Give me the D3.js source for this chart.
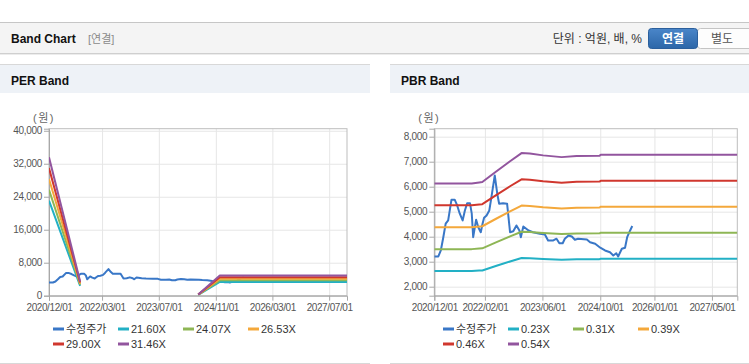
<!DOCTYPE html>
<html>
<head>
<meta charset="utf-8">
<script src="https://cdn.jsdelivr.net/npm/d3@7/dist/d3.min.js"></script>
<style>
    body { margin: 0; background: #fff; }
    text { font-family: "Liberation Sans", "Noto Sans CJK KR", sans-serif; }
</style>
</head>
<body>
<svg id="page" width="749" height="364"></svg>
<script>
// ---- data ----
const priceDates = ["2020-12-01", "2021-01-04", "2021-01-25", "2021-02-15", "2021-03-07", "2021-03-28",
    "2021-04-25", "2021-05-22", "2021-06-12", "2021-07-04", "2021-07-28", "2021-08-16", "2021-09-04",
    "2021-09-28", "2021-10-13", "2021-10-25", "2021-11-19", "2021-12-07", "2021-12-28", "2022-01-13",
    "2022-01-25", "2022-02-15", "2022-03-10", "2022-03-28", "2022-04-25", "2022-05-16", "2022-06-01",
    "2022-07-04", "2022-08-07", "2022-09-01", "2022-09-28", "2022-10-25", "2022-11-19", "2022-12-01",
    "2022-12-22", "2023-02-04", "2023-03-13", "2023-05-10", "2023-06-22", "2023-07-19", "2023-09-01",
    "2023-09-28", "2023-10-22", "2023-11-19", "2023-12-07", "2024-01-07", "2024-02-04", "2024-03-01",
    "2024-03-28", "2024-06-10", "2024-07-07", "2024-08-19", "2024-10-01", "2024-11-10", "2024-12-22",
    "2025-01-19", "2025-02-13", "2025-03-01", "2025-04-01", "2025-04-28", "2025-05-16", "2025-06-10",
    "2025-06-28"];
const priceValues = [3210, 3210, 3450, 3980, 4520, 4650,
    5480, 5480, 5250, 4920, 4650, 5050, 5340,
    5340, 4920, 3980, 4680, 4380, 4180, 4540,
    4760, 4850, 5050, 5580, 6450, 5720, 5320,
    5340, 5320, 4180, 4220, 4450, 4250, 3980,
    4410, 4250, 4180, 4120, 4090, 3850, 3850,
    3920, 3740, 3740, 3920, 4050, 4010, 3880,
    3920, 3890, 3780, 3720, 3560, 3450, 3380,
    3250, 3340, 3210, 3520, 3560, 3980, 4250,
    4430];

const perLabels = ["21.60X", "24.07X", "26.53X", "29.00X", "31.46X"];
const perDates = ["2020-12-01", "2021-08-25", "2023-01-01", "2024-06-03", "2024-12-05", "2027-12-01"];
const per2160 = [23050, 2380, null, 216, 3348, 3348];
const per2407 = [25680, 2650, null, 241, 3731, 3731];
const per2653 = [28310, 2920, null, 265, 4112, 4112];
const per2900 = [30940, 3190, null, 290, 4495, 4495];
const per3146 = [33570, 3460, null, 315, 4876, 4876];

const pbrLabels = ["0.23X", "0.31X", "0.39X", "0.46X", "0.54X"];
const pbrDates = ["2020-12-01", "2021-10-13", "2021-12-15", "2022-01-10", "2022-05-10", "2022-09-01",
    "2022-12-07", "2023-02-15", "2023-06-07", "2023-11-10", "2024-03-15", "2024-09-25", "2024-10-05",
    "2027-12-01"];
const pbr023 = [2627, 2627, 2644, 2651, 2837, 3009, 3148, 3139, 3109, 3078, 3097, 3102, 3120, 3120];
const pbr031 = [3503, 3503, 3525, 3534, 3782, 4011, 4197, 4185, 4145, 4104, 4129, 4135, 4160, 4160];
const pbr039 = [4379, 4379, 4406, 4418, 4728, 5014, 5247, 5231, 5181, 5131, 5162, 5169, 5200, 5200];
const pbr046 = [5255, 5255, 5287, 5301, 5673, 6017, 6296, 6278, 6217, 6157, 6194, 6203, 6240, 6240];
const pbr054 = [6130, 6130, 6168, 6185, 6619, 7020, 7345, 7324, 7253, 7183, 7226, 7237, 7280, 7280];

const perTicks = ["2020-12-01", "2022-03-01", "2023-07-01", "2024-11-01", "2026-03-01", "2027-07-01"];
const pbrTicks = ["2020-12-01", "2022-02-01", "2023-06-01", "2024-10-01", "2026-01-01", "2027-05-01"];
const perYTicks = [0, 8000, 16000, 24000, 32000, 40000];
const pbrYTicks = [2000, 3000, 4000, 5000, 6000, 7000, 8000];

const priceLabel = "수정주가";
const priceColor = "#3977c7";
const bandColors = ["#22b0c5", "#8eb655", "#f4a83b", "#d0372e", "#92559e"];

// ---- page ----
const parse = d3.timeParse("%Y-%m-%d");
const svg = d3.select("#page");

// top bar
svg.append("line").attr("x1", 0).attr("x2", 749).attr("y1", 22.5).attr("y2", 22.5)
    .attr("stroke", "#c6c6c6");
svg.append("rect").attr("x", 0).attr("y", 23).attr("width", 749).attr("height", 30)
    .attr("fill", "#f4f4f4");
svg.append("line").attr("x1", 0).attr("x2", 749).attr("y1", 53.5).attr("y2", 53.5)
    .attr("stroke", "#cfcfcf");
svg.append("line").attr("x1", 0).attr("x2", 749).attr("y1", 54.5).attr("y2", 54.5)
    .attr("stroke", "#ececec");
svg.append("text").attr("x", 11).attr("y", 43).attr("font-size", 12).attr("font-weight", "bold")
    .attr("fill", "#111").text("Band Chart");
svg.append("text").attr("x", 88).attr("y", 43).attr("font-size", 11).attr("fill", "#8a8a8a")
    .text("[연결]");
svg.append("text").attr("x", 642).attr("y", 43).attr("font-size", 12).attr("fill", "#333")
    .attr("text-anchor", "end").text("단위 : 억원, 배, %");

const grad = svg.append("defs").append("linearGradient").attr("id", "btn")
    .attr("x1", 0).attr("x2", 0).attr("y1", 0).attr("y2", 1);
grad.append("stop").attr("offset", 0).attr("stop-color", "#4a86c9");
grad.append("stop").attr("offset", 1).attr("stop-color", "#2c66a8");

svg.append("rect").attr("x", 697.5).attr("y", 28.5).attr("width", 60).attr("height", 20).attr("rx", 3)
    .attr("fill", "#fdfdfd").attr("stroke", "#c4c4c4");
svg.append("rect").attr("x", 648.5).attr("y", 28.5).attr("width", 49).attr("height", 20).attr("rx", 3)
    .attr("fill", "url(#btn)").attr("stroke", "#2b5f9c");
svg.append("text").attr("x", 673).attr("y", 43).attr("font-size", 12).attr("font-weight", "bold")
    .attr("fill", "#fff").attr("text-anchor", "middle").text("연결");
svg.append("text").attr("x", 722).attr("y", 43).attr("font-size", 12).attr("fill", "#555")
    .attr("text-anchor", "middle").text("별도");

function drawPanel(opts) {
    const g = svg.append("g");
    // panel frame
    g.append("rect").attr("x", opts.px).attr("y", 65).attr("width", opts.pw).attr("height", 28)
        .attr("fill", "#eef2f7");
    g.append("line").attr("x1", opts.px).attr("x2", opts.px + opts.pw).attr("y1", 64.5).attr("y2", 64.5)
        .attr("stroke", "#d8d8d8");
    g.append("line").attr("x1", opts.px).attr("x2", opts.px + opts.pw).attr("y1", 363.5).attr("y2", 363.5)
        .attr("stroke", "#d8d8d8");
    g.append("text").attr("x", opts.px + 11).attr("y", 85).attr("font-size", 12)
        .attr("font-weight", "bold").attr("fill", "#111").text(opts.title);

    const x = d3.scaleTime()
        .domain([parse("2020-12-01"), parse("2027-12-01")])
        .range([opts.left, opts.right]);
    const y = d3.scaleLinear().domain(opts.yDomain).range([295.7, 128.7]);
    const w = opts.right - opts.left;

    // grid
    g.append("g").attr("transform", `translate(0,295.7)`)
        .call(d3.axisBottom(x).tickValues(opts.xTicks.map(parse)).tickSize(-167).tickFormat(""))
        .call(a => a.select(".domain").remove())
        .call(a => a.selectAll("line").attr("stroke", "#e6e6e6"));
    g.append("g").attr("transform", `translate(${opts.left},0)`)
        .call(d3.axisLeft(y).tickValues(opts.yTicks).tickSize(-w).tickFormat(""))
        .call(a => a.select(".domain").remove())
        .call(a => a.selectAll("line").attr("stroke", "#e6e6e6"));

    g.append("rect").attr("x", opts.left).attr("y", 128.7).attr("width", w).attr("height", 167)
        .attr("fill", "none").attr("stroke", "#bdbdbd");

    // axes
    g.append("g").attr("transform", `translate(${opts.left},0)`)
        .call(d3.axisLeft(y).tickValues(opts.yTicks).tickSize(5).tickPadding(2)
            .tickFormat(d3.format(",")))
        .call(a => a.select(".domain").attr("stroke", "#a8a8a8"))
        .call(a => a.selectAll("line").attr("stroke", "#a8a8a8"))
        .call(a => a.selectAll("text").attr("font-size", 10).attr("fill", "#555")
            .attr("letter-spacing", "-0.3px")
            .style("font-family", "'Liberation Sans', sans-serif"));
    g.append("g").attr("transform", `translate(0,295.7)`)
        .call(d3.axisBottom(x).tickValues(opts.xTicks.map(parse)).tickSize(5).tickPadding(3)
            .tickFormat(d3.timeFormat("%Y/%m/%d")))
        .call(a => a.select(".domain").attr("stroke", "#a8a8a8"))
        .call(a => a.selectAll("line").attr("stroke", "#a8a8a8"))
        .call(a => a.selectAll("text").attr("font-size", 10).attr("fill", "#555")
            .attr("letter-spacing", "-0.4px")
            .style("font-family", "'Liberation Sans', sans-serif"));

    g.append("text").attr("x", opts.left - 16).attr("y", 122).attr("font-size", 11)
        .attr("letter-spacing", "1.5px").attr("fill", "#666").text("(원)");

    // lines
    const clipId = "clip-" + opts.title.split(" ")[0];
    g.append("clipPath").attr("id", clipId).append("rect")
        .attr("x", opts.left).attr("y", 128.7).attr("width", w).attr("height", 167);
    const plot = g.append("g").attr("clip-path", `url(#${clipId})`);

    const line = d3.line()
        .defined(d => d[1] !== null)
        .x(d => x(d[0]))
        .y(d => y(d[1]));

    const priceData = priceDates.map((d, i) => [parse(d), priceValues[i]]);
    plot.append("path").datum(priceData).attr("d", line)
        .attr("fill", "none").attr("stroke", priceColor).attr("stroke-width", 2)
        .attr("stroke-linejoin", "round");

    opts.bands.forEach((vals, k) => {
        const data = opts.bandDates.map((d, i) => [parse(d), vals[i]]);
        plot.append("path").datum(data).attr("d", line)
            .attr("fill", "none").attr("stroke", bandColors[k]).attr("stroke-width", 2)
            .attr("stroke-linejoin", "round");
    });

    // legend
    const items = [{ label: priceLabel, color: priceColor }]
        .concat(opts.labels.map((l, k) => ({ label: l, color: bandColors[k] })));
    const leg = g.append("g").selectAll("g").data(items).join("g")
        .attr("transform", (d, i) => `translate(${opts.legX + (i % 4) * 65},${329 + Math.floor(i / 4) * 15})`);
    leg.append("line").attr("x1", 0).attr("x2", 11).attr("stroke", d => d.color).attr("stroke-width", 3);
    leg.append("text").attr("x", 13).attr("y", 4).attr("font-size", 11).attr("fill", "#333")
        .text(d => d.label);
}

drawPanel({
    title: "PER Band", px: 0, pw: 370, left: 49, right: 347,
    yDomain: [0, 40500], yTicks: perYTicks, xTicks: perTicks,
    bandDates: perDates, bands: [per2160, per2407, per2653, per2900, per3146],
    labels: perLabels, legX: 53
});
drawPanel({
    title: "PBR Band", px: 390, pw: 359, left: 434.3, right: 737.3,
    yDomain: [1640, 8320], yTicks: pbrYTicks, xTicks: pbrTicks,
    bandDates: pbrDates, bands: [pbr023, pbr031, pbr039, pbr046, pbr054],
    labels: pbrLabels, legX: 443
});
</script>
</body>
</html>
